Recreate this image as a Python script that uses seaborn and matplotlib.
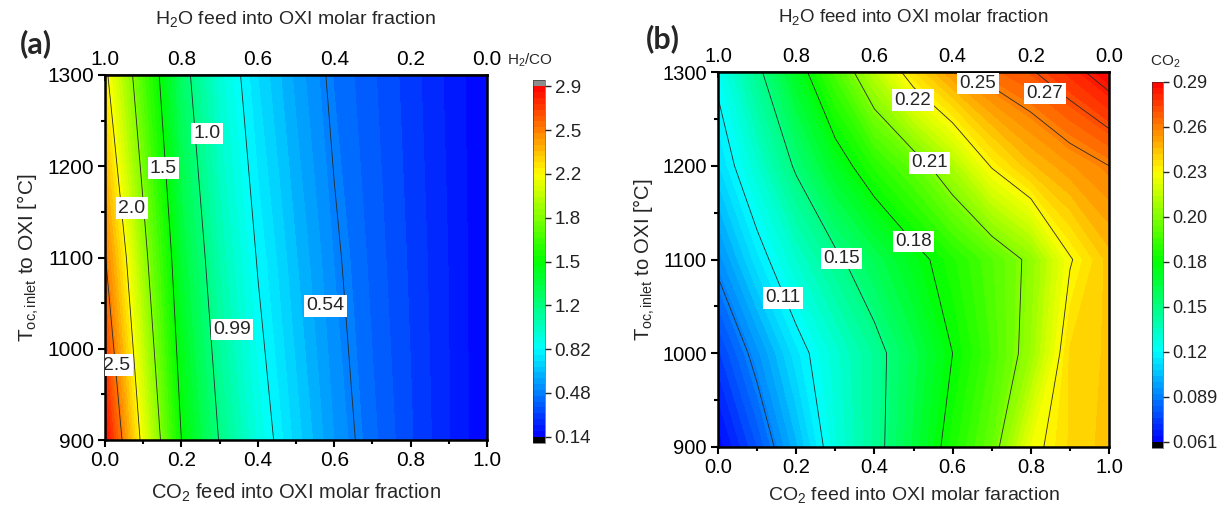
import numpy as np
import matplotlib
matplotlib.use("Agg")
import matplotlib.pyplot as plt
from matplotlib.ticker import MultipleLocator, FormatStrFormatter
import seaborn as sns

# ---- data ----
# CO2 feed molar fraction (bottom axis); the top axis is H2O = 1 - CO2
co2_frac = [0.0, 0.1, 0.2, 0.3, 0.4, 0.5, 0.6, 0.7, 0.8, 0.9, 1.0]

# (a) H2/CO ratio
temp_a = [900, 1100, 1300]
h2co_900 = [2.88, 2.15, 1.52, 1.165, 0.91, 0.717, 0.553, 0.43, 0.33, 0.235, 0.14]
h2co_1100 = [2.565, 1.93, 1.38, 1.05, 0.82, 0.65, 0.505, 0.40, 0.315, 0.23, 0.14]
h2co_1300 = [2.25, 1.717, 1.247, 0.942, 0.738, 0.585, 0.457, 0.378, 0.30, 0.22, 0.14]
h2co_range = [0.14, 2.9]
h2co_ticks = ["0.14", "0.48", "0.82", "1.2", "1.5", "1.8", "2.2", "2.5", "2.9"]
h2co_lines = [0.485, 0.83, 1.175, 1.52, 1.865, 2.21, 2.555]
h2co_label_text = ["2.5", "2.0", "1.5", "1.0", "0.99", "0.54"]

# (b) CO2 molar fraction
temp_b = [900, 1000, 1100, 1200, 1300]
co2_900 = [0.062, 0.080, 0.102, 0.125, 0.142, 0.161, 0.181, 0.198, 0.229, 0.241, 0.246]
co2_1000 = [0.075, 0.094, 0.113, 0.128, 0.142, 0.158, 0.175, 0.191, 0.210, 0.241, 0.245]
co2_1100 = [0.093, 0.113, 0.1295, 0.144, 0.157, 0.170, 0.182, 0.194, 0.207, 0.232, 0.246]
co2_1200 = [0.110, 0.129, 0.149, 0.168, 0.184, 0.197, 0.214, 0.234, 0.247, 0.255, 0.261]
co2_1300 = [0.121, 0.1436, 0.168, 0.192, 0.217, 0.240, 0.2555, 0.266, 0.2715, 0.280, 0.290]
co2_range = [0.061, 0.29]
co2_ticks = ["0.061", "0.089", "0.12", "0.15", "0.18", "0.20", "0.23", "0.26", "0.29"]
co2_lines = [0.0896, 0.118, 0.147, 0.175, 0.204, 0.233, 0.261, 0.2725, 0.284]
co2_label_text = ["0.11", "0.15", "0.18", "0.21", "0.22", "0.25", "0.27"]

# ---- layout (pixels of a 1231 x 514 canvas) ----
W, H = 1231, 514
label_pos_a = [(0.031, 982), (0.070, 1154), (0.153, 1198), (0.268, 1236), (0.332, 1021), (0.578, 1047)]
label_pos_b = [(0.166, 1059), (0.316, 1101), (0.499, 1119), (0.541, 1203), (0.499, 1270), (0.665, 1288), (0.836, 1277)]


def px_box(left, top, right, bottom):
    return [left / W, 1 - bottom / H, (right - left) / W, (bottom - top) / H]


sns.set_theme(style="ticks")
plt.rcParams["font.family"] = ["Liberation Sans", "DejaVu Sans"]
plt.rcParams["mathtext.fontset"] = "custom"
plt.rcParams["mathtext.rm"] = "Liberation Sans"
plt.rcParams["mathtext.it"] = "Liberation Sans:italic"
plt.rcParams["axes.unicode_minus"] = False

rainbow = sns.blend_palette(["#0000ff", "#00ffff", "#00ff00", "#ffff00", "#ff0000"], as_cmap=True)


def draw_panel(ax, cax, temps, rows, vrange, line_levels, lab_texts, lab_pos,
               cbar_labels, extend, over_color, fs, top_pad):
    z = np.array(rows)
    X, T = np.meshgrid(co2_frac, temps)
    cmap = rainbow.copy()
    cmap.set_under("black")
    if over_color:
        cmap.set_over(over_color)
    fill = np.linspace(vrange[0], vrange[1], 61)
    cf = ax.contourf(X, T, z, levels=fill, cmap=cmap, extend=extend)
    ax.contour(X, T, z, levels=line_levels, colors="#2a2a2a", linewidths=0.6)
    # contour labels in white boxes, as in the original
    for txt, (px, py) in zip(lab_texts, lab_pos):
        ax.text(px, py, txt, fontsize=fs - 1, ha="center", va="center", zorder=5, clip_on=True,
                bbox=dict(boxstyle="square,pad=0.12", facecolor="white", edgecolor="none"))

    ax.set_xlim(0, 1)
    ax.set_ylim(900, 1300)
    ax.xaxis.set_major_locator(MultipleLocator(0.2))
    ax.xaxis.set_minor_locator(MultipleLocator(0.1))
    ax.xaxis.set_major_formatter(FormatStrFormatter("%.1f"))
    ax.yaxis.set_major_locator(MultipleLocator(100))
    ax.yaxis.set_minor_locator(MultipleLocator(50))
    ax.tick_params(which="both", direction="out", width=1.5, labelsize=fs, pad=3, colors="black")
    ax.tick_params(which="major", length=5)
    ax.tick_params(which="minor", length=3)
    for sp in ax.spines.values():
        sp.set_visible(True)
        sp.set_linewidth(1.8)
        sp.set_color("black")

    top = ax.secondary_xaxis("top", functions=(lambda v: 1 - v, lambda v: 1 - v))
    top.set_xticks([0.0, 0.2, 0.4, 0.6, 0.8, 1.0])
    top.xaxis.set_minor_locator(MultipleLocator(0.1))
    top.xaxis.set_major_formatter(FormatStrFormatter("%.1f"))
    top.tick_params(which="both", direction="in", width=1.2, labelsize=fs, pad=4, colors="black")
    top.tick_params(which="major", length=4)
    top.tick_params(which="minor", length=2.5)
    top.spines["top"].set_linewidth(1.8)
    top.set_xlabel("H$_2$O feed into OXI molar fraction", fontsize=fs - 1, labelpad=top_pad)

    ax.set_ylabel(r"T$_{\mathrm{oc,inlet}}$ to OXI [°C]", fontsize=fs, labelpad=4)

    cb = fig.colorbar(cf, cax=cax, extend=extend, extendrect=True, extendfrac=0.018,
                      ticks=np.linspace(vrange[0], vrange[1], 9))
    cb.ax.set_yticklabels(cbar_labels)
    cb.ax.tick_params(direction="out", length=4, width=1.0, labelsize=fs - 1.5, pad=3, colors="#222222")
    cb.outline.set_linewidth(0.4)
    cb.minorticks_off()
    return ax


fig = plt.figure(figsize=(W / 100, H / 100), dpi=100)

ax_a = fig.add_axes(px_box(105, 75, 487, 440))
cax_a = fig.add_axes(px_box(533, 80, 545, 443))
draw_panel(ax_a, cax_a, temp_a, [h2co_900, h2co_1100, h2co_1300], h2co_range, h2co_lines,
           h2co_label_text, label_pos_a, h2co_ticks, "both", "#8c8c8c", 15, 19)
ax_a.set_xlabel("CO$_2$ feed into OXI molar fraction", fontsize=14.5, labelpad=8)

ax_b = fig.add_axes(px_box(718, 72, 1109, 447))
cax_b = fig.add_axes(px_box(1152, 82, 1163, 448))
draw_panel(ax_b, cax_b, temp_b, [co2_900, co2_1000, co2_1100, co2_1200, co2_1300], co2_range, co2_lines,
           co2_label_text, label_pos_b, co2_ticks, "min", None, 14.5, 18)
ax_b.set_xlabel("CO$_2$ feed into OXI molar faraction", fontsize=14, labelpad=6)

fig.text(530 / W, 1 - 60 / H, "H$_2$/CO", fontsize=11, ha="center", va="center")
fig.text(1165 / W, 1 - 62 / H, "CO$_2$", fontsize=11, ha="center", va="center")
fig.text(36 / W, 1 - 44 / H, "(a)", fontsize=22, fontweight="bold", family=["Lato", "DejaVu Sans"],
         ha="center", va="center")
fig.text(663 / W, 1 - 39 / H, "(b)", fontsize=22, fontweight="bold", family=["Lato", "DejaVu Sans"],
         ha="center", va="center")

fig.savefig("out.png", dpi=100, facecolor="white")
